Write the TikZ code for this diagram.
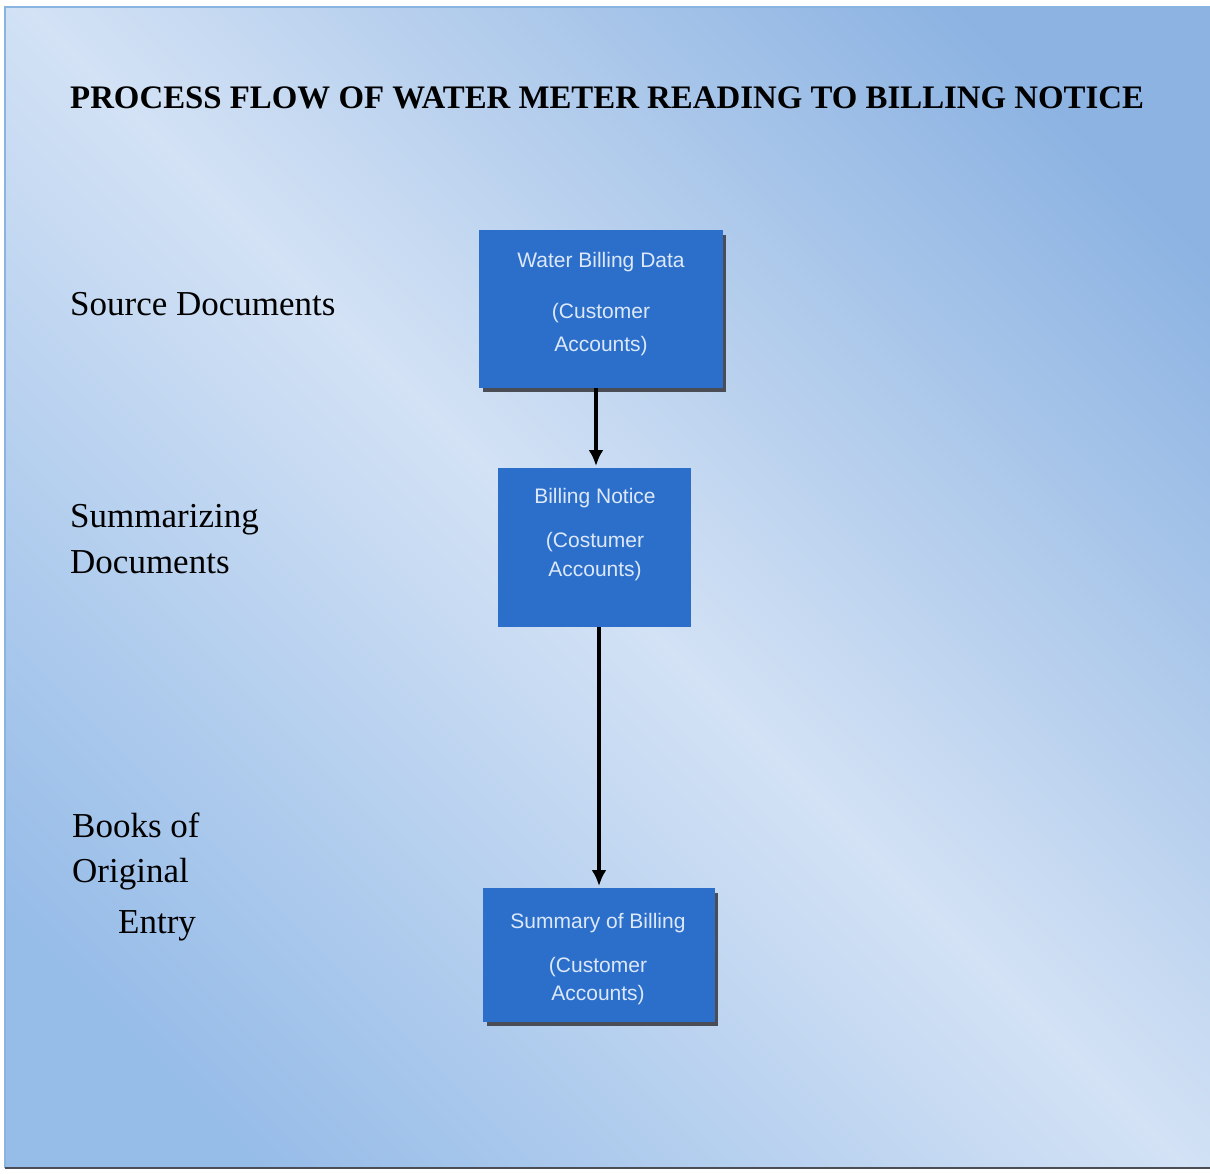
\documentclass[tikz,border=0pt]{standalone}
\usepackage{fontspec}
\setmainfont{Liberation Serif}
\newfontfamily\boxfont{Liberation Sans}
\usetikzlibrary{arrows.meta}
\definecolor{bgdark}{HTML}{8CB3E2}
\definecolor{bgdark2}{HTML}{96BCE8}
\definecolor{bglight}{HTML}{D3E2F5}
\definecolor{boxblue}{HTML}{2C6FCB}
\definecolor{boxtext}{HTML}{DCE8F8}
\definecolor{shadowgrey}{HTML}{4A4D55}
\definecolor{frameblue}{HTML}{8AB4E0}
\pgfdeclarehorizontalshading{bgshade}{100bp}{color(0bp)=(bgdark2); color(22bp)=(bgdark2); color(50bp)=(bglight); color(78bp)=(bgdark); color(100bp)=(bgdark)}
\tikzset{
  x=1pt, y=-1pt,
  titletext/.style={anchor=base west, inner sep=0pt, font=\fontsize{32.85}{39}\selectfont\bfseries, text=black},
  sidetext/.style={anchor=base west, inner sep=0pt, font=\fontsize{35}{41}\selectfont, text=black},
  blockbox/.style={draw=none, fill=boxblue, inner sep=0pt, outer sep=0pt},
  blockshadow/.style={fill=shadowgrey, draw=none},
  boxline/.style={anchor=base, inner sep=0pt, font=\boxfont\fontsize{21}{25}\selectfont, text=boxtext},
  arr/.style={line width=3.2pt, draw=black, -{Latex[length=16pt,width=15pt]}}
}
\begin{document}
\begin{tikzpicture}
\useasboundingbox (0,0) rectangle (1210,1174);
\fill[white] (0,0) rectangle (1210,1174);
% background panel (explicit canvas coordinates)
\shade[shading=bgshade, shading angle=45] (5pt,-1168pt) rectangle (1210pt,-7pt);
\draw[frameblue, line width=1.2pt] (5,1168) -- (5,7) -- (1210,7);
\draw[shadowgrey, line width=2pt] (5,1168) -- (1210,1168);

% title
\node[titletext] (title) at (70,109) {PROCESS FLOW OF WATER METER READING TO BILLING NOTICE};

% side labels
\node[sidetext] (src) at (70,316) {Source Documents};
\node[sidetext] (sum1) at (70,527) {Summarizing};
\node[sidetext] (sum2) at (70,573) {Documents};
\node[sidetext] (book1) at (72,837) {Books of};
\node[sidetext] (book2) at (72,882) {Original};
\node[sidetext] (book3) at (118,933) {Entry};

% box shadows
\fill[blockshadow] (483,235) rectangle (726,392);
\fill[blockshadow] (487,893) rectangle (718,1026);

% boxes
\node[blockbox, minimum width=244pt, minimum height=158pt] (b1) at (601,309) {};
\node[blockbox, minimum width=193pt, minimum height=159pt] (b2) at (594.5,547.5) {};
\node[blockbox, minimum width=232pt, minimum height=134pt] (b3) at (599,955) {};

% box texts
\node[boxline] (b1l1) at (601,268) {Water Billing Data};
\node[boxline] (b1l2) at (601,319) {(Customer};
\node[boxline] (b1l3) at (601,352) {Accounts)};
\node[boxline] (b2l1) at (595,503) {Billing Notice};
\node[boxline] (b2l2) at (595,547) {(Costumer};
\node[boxline] (b2l3) at (595,576) {Accounts)};
\node[boxline] (b3l1) at (598,928) {Summary of Billing};
\node[boxline] (b3l2) at (598,972) {(Customer};
\node[boxline] (b3l3) at (598,1000) {Accounts)};

% connectors
\draw[arr] ([xshift=-5pt]b1.south) -- ([xshift=1.5pt,yshift=2pt]b2.north);
\draw[arr] ([xshift=4.5pt]b2.south) -- ([yshift=2pt]b3.north);
\end{tikzpicture}
\end{document}
